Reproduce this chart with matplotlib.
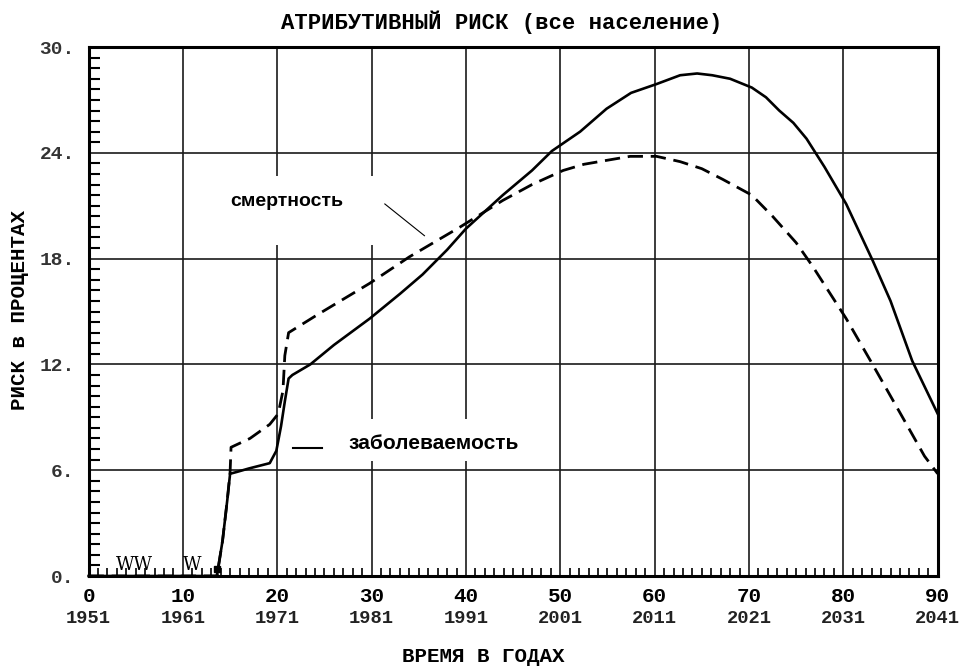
import matplotlib
matplotlib.use("Agg")
import matplotlib.pyplot as plt
from matplotlib.patches import Rectangle
from matplotlib.ticker import MultipleLocator
import matplotlib.transforms as mtransforms

# годы от начала (1951)
x_major = [0, 10, 20, 30, 40, 50, 60, 70, 80, 90]
year_labels = ["1951", "1961", "1971", "1981", "1991", "2001", "2011", "2021", "2031", "2041"]
y_major = [0, 6, 12, 18, 24, 30]
y_labels = ["0.", "6.", "12.", "18.", "24.", "30."]

# заболеваемость (сплошная)
inc_x = [0, 13.6, 14.2, 14.7, 15.0, 15.7, 17, 19.2, 19.9, 20.4, 20.8, 21.2, 21.6, 23.5, 26,
         29.8, 33, 35.4, 38, 40, 43.9, 47, 49.1, 52.1, 54.9, 57.5, 60.2, 62.7, 64.5, 66.1,
         68, 70.3, 71.8, 73.2, 74.7, 76.1, 78, 80.3, 83.1, 85, 87.3, 90]
inc_y = [0, 0, 2.0, 4.3, 5.8, 5.9, 6.1, 6.4, 7.1, 8.5, 9.9, 11.2, 11.4, 12.0, 13.1,
         14.6, 16.0, 17.1, 18.5, 19.7, 21.6, 23.0, 24.1, 25.2, 26.5, 27.4, 27.9, 28.4, 28.5, 28.4,
         28.2, 27.7, 27.15, 26.4, 25.7, 24.8, 23.2, 21.1, 17.9, 15.6, 12.2, 9.2]

# смертность (пунктир)
mort_x = [0, 13.6, 14.2, 14.7, 15.0, 15.1, 17.1, 19.2, 20.1, 20.6, 20.8, 21.2, 22.1, 24.2,
          29.8, 34.0, 39.4, 43.9, 47, 50.3, 52.5, 55.2, 57.4, 60.2, 62.7, 65, 67.2, 70.3,
          72.5, 75.0, 76.7, 80.3, 83.1, 86.7, 88.6, 90]
mort_y = [0, 0, 2.0, 4.3, 5.9, 7.3, 7.8, 8.6, 9.2, 10.5, 12.5, 13.8, 14.1, 14.8,
          16.6, 18.1, 19.8, 21.3, 22.2, 23.0, 23.35, 23.6, 23.8, 23.8, 23.5, 23.1, 22.5, 21.6,
          20.4, 18.9, 17.6, 14.6, 12.0, 8.6, 6.8, 5.8]

mono = "Liberation Mono"
sans = "Liberation Sans"
ink = "#1a1a1a"

fig = plt.figure(figsize=(9.66, 6.69), dpi=100)
ax = fig.add_axes([0.0917, 0.139, 0.879, 0.7907])
ax.set_xlim(0, 90)
ax.set_ylim(0, 30)

# сетка
for v in x_major[1:-1]:
    ax.axvline(v, color=ink, lw=1.2, zorder=1)
for v in y_major[1:-1]:
    ax.axhline(v, color=ink, lw=1.2, zorder=1)

# белые подложки под подписями (разрывы сетки)
ax.add_patch(Rectangle((17, 18.8), 16, 3.9, facecolor="white", edgecolor="none", zorder=2))
ax.add_patch(Rectangle((25, 6.5), 22, 2.4, facecolor="white", edgecolor="none", zorder=2))

ax.plot(inc_x, inc_y, color="black", lw=1.9, zorder=4, clip_on=False)
ax.plot(mort_x, mort_y, color="black", lw=2.0, linestyle=(0, (5.5, 2.8)), zorder=4, clip_on=False)
ax.plot([13.6], [0.4], marker="s", color="black", ms=5, zorder=5)

# подписи кривых
ax.text(15.0, 21.0, "смертность", fontfamily=sans, fontweight="bold", fontsize=14,
        va="baseline", ha="left", zorder=5)
ax.plot([31.4, 35.6], [21.1, 19.3], color="black", lw=0.8, zorder=5)
ax.text(27.5, 7.2, "заболеваемость", fontfamily=sans, fontweight="bold", fontsize=15,
        va="baseline", ha="left", zorder=5)
ax.plot([21.65, 24.7], [7.27, 7.27], color="black", lw=1.5, zorder=5)

ax.text(2.9, 0.1, "WW", fontfamily="DejaVu Serif", fontsize=13, va="bottom", ha="left", zorder=5)
ax.text(10.0, 0.1, "W", fontfamily="DejaVu Serif", fontsize=13, va="bottom", ha="left", zorder=5)

# оси и деления
for s in ax.spines.values():
    s.set_linewidth(2.2)
    s.set_color("black")

ax.set_xticks(x_major)
ax.set_xticklabels([str(v) for v in x_major], fontfamily=mono, fontweight="bold", fontsize=15)
ax.set_yticks(y_major)
ax.set_yticklabels(y_labels, fontfamily=mono, fontweight="bold", fontsize=14, color="#333333")
ax.xaxis.set_minor_locator(MultipleLocator(1))
ax.yaxis.set_minor_locator(MultipleLocator(0.6))
ax.tick_params(axis="x", which="both", direction="in", top=False, pad=8)
ax.tick_params(axis="y", which="both", direction="in", right=False, pad=10)
ax.tick_params(which="major", length=0)
ax.tick_params(axis="x", which="minor", length=6, width=1.2)
ax.tick_params(axis="y", which="minor", length=8, width=1.5)

trans = mtransforms.blended_transform_factory(ax.transData, ax.transAxes)
for v, lab in zip(x_major, year_labels):
    ax.text(v, -0.08, lab, transform=trans, ha="center", va="center",
            fontfamily=mono, fontweight="bold", fontsize=13.5, color="#222222")

fig.text(502 / 966, 1 - 22 / 669, "АТРИБУТИВНЫЙ РИСК (все население)", ha="center", va="center",
         fontfamily=mono, fontweight="bold", fontsize=16)
fig.text(483 / 966, 1 - 657 / 669, "ВРЕМЯ В ГОДАХ", ha="center", va="center",
         fontfamily=mono, fontweight="bold", fontsize=15)
fig.text(20 / 966, 1 - 310 / 669, "РИСК в ПРОЦЕНТАХ", ha="center", va="center", rotation=90,
         fontfamily=mono, fontweight="bold", fontsize=15)

fig.savefig("out.png", dpi=100)
